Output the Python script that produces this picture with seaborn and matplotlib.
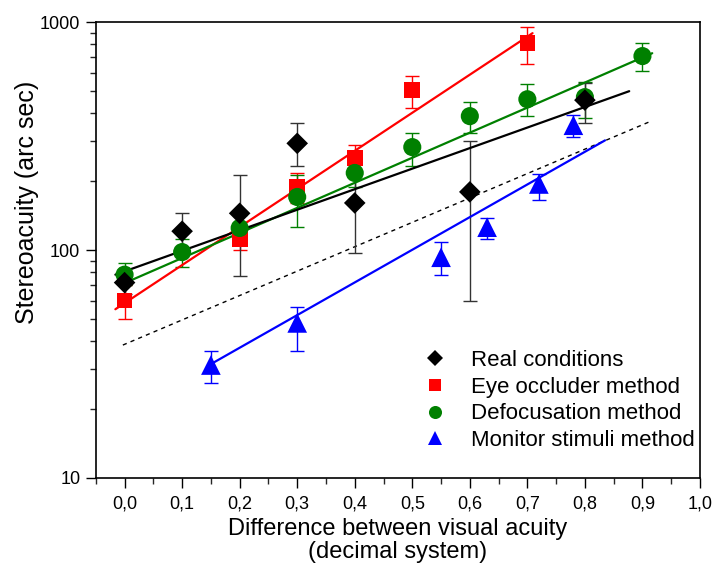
import numpy as np
import pandas as pd
import matplotlib
matplotlib.use("Agg")
import matplotlib.pyplot as plt
import seaborn as sns
from matplotlib.lines import Line2D
from matplotlib.ticker import FixedLocator, MultipleLocator, LogLocator, NullFormatter, FuncFormatter

# Real conditions (black diamonds)
real_x = [0.0, 0.1, 0.2, 0.3, 0.4, 0.6, 0.8]
real_y = [72, 121, 145, 294, 161, 180, 455]
real_lo = [64, 100, 77, 233, 97, 60, 360]
real_hi = [80, 145, 213, 360, 224, 300, 540]
real_fit_x = [-0.016, 0.877]
real_fit_y = [78, 498]

# Eye occluder method (red squares)
eye_x = [0.0, 0.2, 0.3, 0.4, 0.5, 0.7]
eye_y = [60, 112, 189, 253, 503, 809]
eye_lo = [50, 100, 161, 220, 420, 654]
eye_hi = [70, 125, 218, 289, 580, 950]
eye_fit_x = [-0.016, 0.709]
eye_fit_y = [55, 895]

# Defocusation method (green circles)
defo_x = [0.0, 0.1, 0.2, 0.3, 0.4, 0.5, 0.6, 0.7, 0.8, 0.9]
defo_y = [78, 98, 125, 171, 218, 283, 387, 459, 469, 710]
defo_lo = [70, 84, 108, 126, 190, 233, 326, 387, 380, 610]
defo_hi = [88, 112, 142, 213, 264, 326, 446, 535, 545, 809]
defo_fit_x = [0.002, 0.917]
defo_fit_y = [72, 731]

# Monitor stimuli method (blue triangles)
mon_x = [0.15, 0.3, 0.55, 0.63, 0.72, 0.78]
mon_y = [31.3, 47.9, 93, 126, 195, 353]
mon_lo = [26, 36, 78, 112, 166, 313]
mon_hi = [36, 56, 108, 138, 215, 391]
mon_fit_x = [0.15, 0.835]
mon_fit_y = [31.6, 303]

# dashed reference line
ref_x = [-0.003, 0.915]
ref_y = [38.3, 368]

# name, marker, colour, scatter size, legend marker size, data...
series = [
    ("Eye occluder method", "s", "#ff0000", 128, 8.0, eye_x, eye_y, eye_lo, eye_hi, eye_fit_x, eye_fit_y),
    ("Defocusation method", "o", "#008000", 170, 9.4, defo_x, defo_y, defo_lo, defo_hi, defo_fit_x, defo_fit_y),
    ("Monitor stimuli method", "^", "#0000ff", 200, 10.0, mon_x, mon_y, mon_lo, mon_hi, mon_fit_x, mon_fit_y),
    ("Real conditions", "D", "#000000", 121, 8.6, real_x, real_y, real_lo, real_hi, real_fit_x, real_fit_y),
]
legend_order = ["Real conditions", "Eye occluder method", "Defocusation method", "Monitor stimuli method"]

sns.set_style("ticks")
plt.rcParams['font.family'] = ['Liberation Sans', 'DejaVu Sans']
plt.rcParams['text.color'] = 'black'
plt.rcParams['axes.labelcolor'] = 'black'

fig = plt.figure(figsize=(7.15, 5.69), dpi=100)
ax = fig.add_axes([0.134, 0.160, 0.845, 0.801])
ax.set_yscale("log")

sns.lineplot(x=ref_x, y=ref_y, ax=ax, color="black", lw=1.0, linestyle=(0, (3, 3)), zorder=1)

handles = {}
for name, mk, col, s, lms, x, y, lo, hi, fx, fy in series:
    y_arr = np.array(y)
    yerr = np.vstack([y_arr - np.array(lo), np.array(hi) - y_arr])
    ecol = "#333333" if col == "#000000" else col
    ax.errorbar(x, y, yerr=yerr, fmt="none", ecolor=ecol, elinewidth=1.0,
                capsize=5, capthick=1.0, zorder=2)
    sns.lineplot(x=fx, y=fy, ax=ax, color=col, lw=1.6, zorder=3)
    df = pd.DataFrame({"x": x, "y": y})
    sns.scatterplot(data=df, x="x", y="y", ax=ax, marker=mk, s=s, color=col,
                    edgecolor="none", linewidth=0, zorder=4)
    handles[name] = Line2D([], [], marker=mk, color=col, linestyle="none",
                           markersize=lms, markeredgewidth=0)

ax.set_xlim(-0.05, 1.0)
ax.set_ylim(10, 1000)

ax.xaxis.set_major_locator(MultipleLocator(0.1))
ax.xaxis.set_minor_locator(MultipleLocator(0.05))
ax.xaxis.set_major_formatter(FuncFormatter(lambda v, p: f"{v:.1f}".replace(".", ",")))
ax.yaxis.set_major_locator(FixedLocator([10, 100, 1000]))
ax.yaxis.set_minor_locator(LogLocator(base=10, subs=np.arange(2, 10)))
ax.yaxis.set_minor_formatter(NullFormatter())
ax.yaxis.set_major_formatter(FuncFormatter(lambda v, p: f"{int(v)}"))

ax.tick_params(axis="both", which="major", direction="out", length=7.2, width=1.0,
               labelsize=13, colors="black", pad=4)
ax.tick_params(axis="x", which="major", pad=5.5)
ax.tick_params(axis="both", which="minor", direction="out", length=4.3, width=1.0)
for sp in ax.spines.values():
    sp.set_linewidth(1.2)
    sp.set_color("black")

ax.set_xlabel("Difference between visual acuity\n(decimal system)", fontsize=17, linespacing=1.06)
ax.xaxis.set_label_coords(0.5, -0.087)
ax.set_ylabel("Stereoacuity (arc sec)", fontsize=18, va="center")
ax.yaxis.set_label_coords(-0.114, 0.605)

ax.legend([handles[n] for n in legend_order], legend_order, loc="upper left",
          bbox_to_anchor=(0.543, 0.281), frameon=False, fontsize=16, handletextpad=1.1,
          labelspacing=0.26, handlelength=1.0, borderpad=0, borderaxespad=0)

fig.savefig("out.png", dpi=100)
